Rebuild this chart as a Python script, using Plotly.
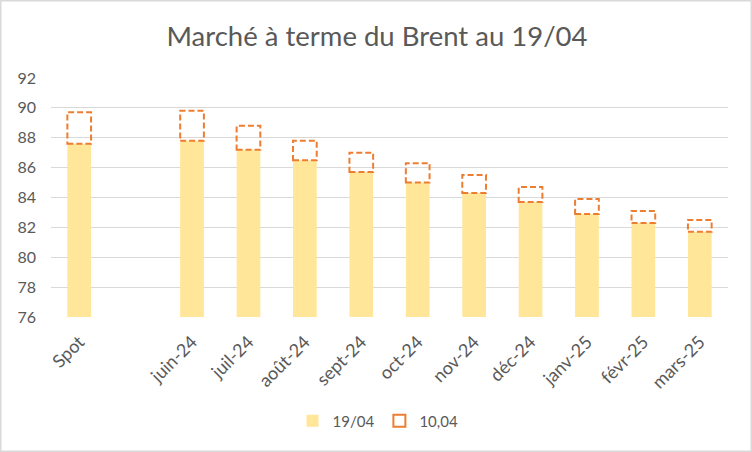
import plotly.graph_objects as go

categories = ["Spot", " ", "juin-24", "juil-24", "août-24", "sept-24", "oct-24",
              "nov-24", "déc-24", "janv-25", "févr-25", "mars-25"]
values_1904 = [87.6, None, 87.8, 87.2, 86.5, 85.7, 85.0, 84.3, 83.7, 82.9, 82.3, 81.7]
values_1004 = [89.7, None, 89.8, 88.8, 87.8, 87.0, 86.3, 85.5, 84.7, 83.9, 83.1, 82.5]
y_ticks = [76, 78, 80, 82, 84, 86, 88, 90, 92]

TXT = "#595959"
FONT = "Lato"
BAR_W = 0.42

# plot area geometry (px)
L, R, T, B = 51, 24, 78, 135
PW, PH = 752 - L - R, 452 - T - B

fig = go.Figure()
fig.add_trace(go.Bar(
    x=categories, y=values_1904, name="19/04",
    marker=dict(color="#FFE699", line=dict(width=0)),
    width=BAR_W,
))

shapes = []
first = True
for i, (a, b) in enumerate(zip(values_1904, values_1004)):
    if a is None or b is None:
        continue
    shapes.append(dict(
        type="rect", xref="x", yref="y",
        x0=i - BAR_W / 2, x1=i + BAR_W / 2, y0=a, y1=b,
        line=dict(color="#ED7D31", width=2, dash="6px,3px"),
        fillcolor="rgba(0,0,0,0)", layer="above",
        name="10,04", showlegend=first, legendgroup="g1004",
    ))
    first = False

# outer chart border
shapes.append(dict(
    type="rect", xref="paper", yref="paper",
    x0=-(L - 0.75) / PW, x1=(751.25 - L) / PW,
    y0=-(B - 0.75) / PH, y1=1 + (T - 0.75) / PH,
    line=dict(color="#D9D9D9", width=1.5), fillcolor="rgba(0,0,0,0)", layer="below",
))

fig.update_layout(
    template="none",
    width=752, height=452,
    margin=dict(l=L, r=R, t=T, b=B, autoexpand=False),
    paper_bgcolor="white", plot_bgcolor="white",
    font=dict(family=FONT, color=TXT, size=15),
    title=dict(text="Marché à terme du Brent au 19/04", x=(377 - L) / PW, xanchor="center",
               xref="paper", y=1 - 36 / 452, yanchor="middle",
               font=dict(family=FONT, size=27.5, color=TXT)),
    showlegend=True,
    legend=dict(orientation="h", x=(378 - L) / PW, xanchor="center",
                y=-(421 - (T + PH)) / PH, yanchor="middle",
                bgcolor="rgba(0,0,0,0)",
                font=dict(family=FONT, size=15, color=TXT)),
    shapes=shapes,
    bargap=0.58,
)
fig.update_xaxes(
    type="category", categoryorder="array", categoryarray=categories,
    tickangle=-45, showgrid=False, showline=False, ticks="", automargin=False,
    tickfont=dict(family=FONT, size=18, color=TXT), ticklabelstandoff=10,
    range=[-0.5, len(categories) - 0.5], zeroline=False,
)
fig.update_yaxes(
    range=[76, 92], tickvals=y_ticks, showgrid=True, gridcolor="#D9D9D9", gridwidth=1,
    zeroline=False, showline=False, ticks="", automargin=False,
    tickfont=dict(family=FONT, size=16, color=TXT), ticklabelstandoff=14,
)

fig.write_html("out.html", config={"displayModeBar": False},
               post_script="document.body.style.margin='0';document.body.style.overflow='hidden';")
